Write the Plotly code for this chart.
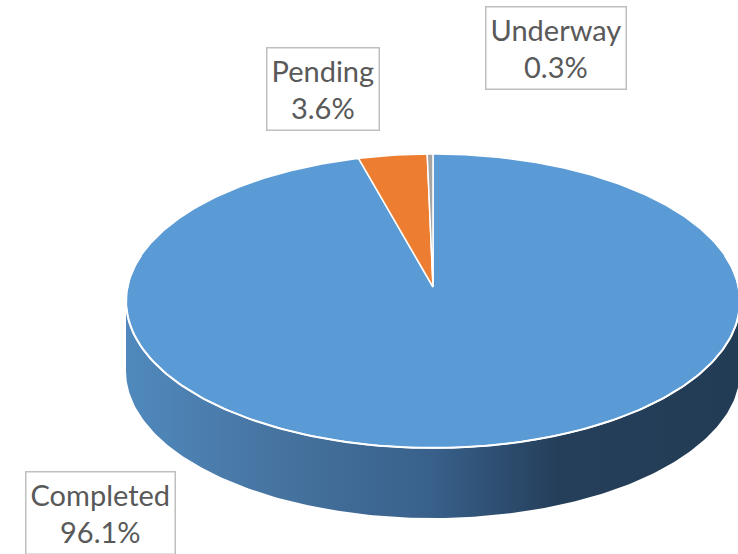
import numpy as np
import plotly.graph_objects as go

# ---- data ----
labels = ["Completed", "Pending", "Underway"]
values = [96.1, 3.6, 0.3]
pct_text = ["96.1%", "3.6%", "0.3%"]

# ---- style ----
colors = ["#5b9bd5", "#ed7d31", "#a5a5a5"]
W, H = 738, 554
cx, cy = 433, 301      # centre of top face (pixels)
rx, ry = 307, 147      # radii of the tilted disc
depth = 70             # thickness of the disc

def pt(frac, dy=0.0):
    th = 2 * np.pi * np.asarray(frac)
    return cx + rx * np.sin(th), cy - ry * np.cos(th) + dy

fig = go.Figure()

# side wall (front half of the disc)
fr = np.linspace(0.25, 0.75, 200)
xt, yt = pt(fr)
xb, yb = pt(fr[::-1], depth)
fig.add_trace(go.Scatter(
    x=np.concatenate([xt, xb, xt[:1]]), y=np.concatenate([yt, yb, yt[:1]]),
    mode="lines", fill="toself", line=dict(width=0),
    fillgradient=dict(type="horizontal",
                      colorscale=[[0, "#5089bd"], [0.25, "#4673a0"], [0.5, "#38608a"],
                                  [0.7, "#253f5b"], [1, "#233c55"]]),
    hoverinfo="skip", showlegend=False))

# top face slices (clockwise from 12 o'clock)
total = sum(values)
start = 0.0
for lab, v, c in zip(labels, values, colors):
    f0, f1 = start / total, (start + v) / total
    n = max(int((f1 - f0) * 600), 4)
    fa = np.linspace(f0, f1, n)
    xa, ya = pt(fa)
    fig.add_trace(go.Scatter(
        x=np.concatenate([[cx], xa, [cx]]), y=np.concatenate([[cy - 14], ya, [cy - 14]]),
        mode="lines", fill="toself", fillcolor=c,
        line=dict(color="white", width=1.5),
        name=lab, hoverinfo="skip", showlegend=False))
    start += v

# white rim along the front edge
xr, yr = pt(np.linspace(0.2, 0.8, 200))
fig.add_trace(go.Scatter(x=xr, y=yr, mode="lines", line=dict(color="white", width=2),
                         hoverinfo="skip", showlegend=False))

# data labels
label_pos = [(100, 513), (323, 89), (556, 48)]
for lab, t, (lx, ly) in zip(labels, pct_text, label_pos):
    fig.add_annotation(x=lx, y=ly, xref="x", yref="y", text=f"{lab}<br>{t}",
                       showarrow=False, align="center",
                       font=dict(family="Lato, Open Sans, sans-serif", size=29, color="#595959"),
                       bordercolor="#bfbfbf", borderwidth=1.5, borderpad=4, bgcolor="white")

fig.update_xaxes(range=[0, W], visible=False, fixedrange=True)
fig.update_yaxes(range=[H, 0], visible=False, fixedrange=True)
fig.update_layout(width=W, height=H, autosize=False,
                  margin=dict(l=0, r=0, t=0, b=0),
                  paper_bgcolor="white", plot_bgcolor="white", showlegend=False)

fig.write_html("out.html", config={"displayModeBar": False},
               post_script="document.body.style.margin='0';")
